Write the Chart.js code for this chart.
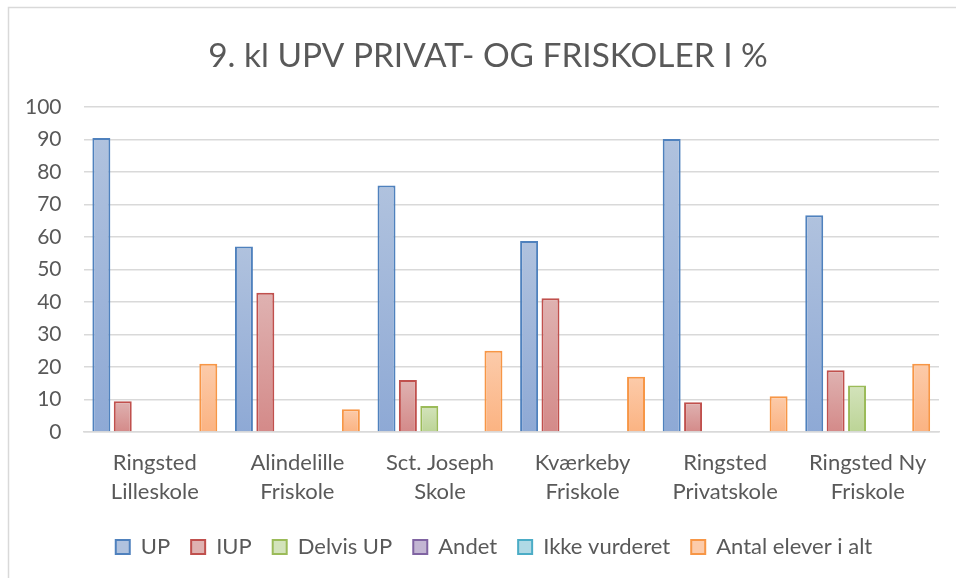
<!DOCTYPE html>
<html>
<head>
<meta charset="utf-8">
<script src="https://cdn.jsdelivr.net/npm/chart.js@4"></script>
<style>
html,body{margin:0;padding:0;background:#fff;}
#wrap{width:956px;height:578px;position:relative;}
</style>
</head>
<body>
<div id="wrap"><canvas id="c" width="956" height="578"></canvas></div>
<script>
const categories = [
  ["Ringsted", "Lilleskole"],
  ["Alindelille", "Friskole"],
  ["Sct. Joseph", "Skole"],
  ["Kværkeby", "Friskole"],
  ["Ringsted", "Privatskole"],
  ["Ringsted Ny", "Friskole"]
];
const seriesNames = ["UP", "IUP", "Delvis UP", "Andet", "Ikke vurderet", "Antal elever i alt"];
const upValues      = [90.5, 57.1, 75.9, 58.8, 90.2, 66.7];
const iupValues     = [9.5, 42.9, 16.0, 41.2, 9.2, 19.0];
const delvisValues  = [null, null, 8.0, null, null, 14.3];
const andetValues   = [null, null, null, null, null, null];
const ikkeValues    = [null, null, null, null, null, null];
const antalValues   = [21, 7, 25, 17, 11, 21];
const yTicks = [0, 10, 20, 30, 40, 50, 60, 70, 80, 90, 100];

const borderCols = ["#4f81bd", "#c0504d", "#9bbb59", "#8064a2", "#4bacc6", "#f79646"];
const topCols    = ["#b0c2de", "#dfb2b1", "#d3e3bb", "#c3b6d3", "#b0d9e5", "#fccbaa"];
const botCols    = ["#8ea9d5", "#d48a89", "#bcd496", "#a795c2", "#8fc8d9", "#fbb382"];

function gradFor(i) {
  return function(ctx) {
    const chart = ctx.chart;
    if (ctx.type !== 'data' || !chart.scales || !chart.scales.y) return topCols[i];
    const v = ctx.raw;
    if (v == null) return topCols[i];
    const y = chart.scales.y;
    const t = y.getPixelForValue(v), b = y.getPixelForValue(0);
    if (!isFinite(t) || !isFinite(b) || t === b) return topCols[i];
    const g = chart.ctx.createLinearGradient(0, t, 0, b);
    g.addColorStop(0, topCols[i]);
    g.addColorStop(1, botCols[i]);
    return g;
  };
}

const allData = [upValues, iupValues, delvisValues, andetValues, ikkeValues, antalValues];
const datasets = seriesNames.map((name, i) => ({
  label: name,
  data: allData[i],
  backgroundColor: gradFor(i),
  borderColor: borderCols[i],
  borderWidth: 2,
  borderSkipped: 'bottom',
  categoryPercentage: 0.9,
  barPercentage: 0.84
}));

const frame = {
  id: 'frame',
  afterLayout(chart) {
    const shift = (box, dx) => { if (box) { box.left += dx; box.right += dx; } };
    shift(chart.titleBlock, 17);
    shift(chart.legend, 23);
  },
  beforeDraw(chart) {
    const c = chart.ctx;
    c.save();
    c.fillStyle = '#ffffff';
    c.fillRect(0, 0, chart.width, chart.height);
    c.strokeStyle = '#d9d9d9';
    c.lineWidth = 1.5;
    c.beginPath();
    c.moveTo(8.5, chart.height);
    c.lineTo(8.5, 7.5);
    c.lineTo(chart.width, 7.5);
    c.stroke();
    c.restore();
  }
};

const FONT = "Lato, 'Open Sans', sans-serif";

new Chart(document.getElementById('c'), {
  type: 'bar',
  data: { labels: categories, datasets: datasets },
  plugins: [frame],
  options: {
    responsive: false,
    animation: false,
    layout: { padding: { top: 36, left: 3, right: 17, bottom: 10 } },
    plugins: {
      title: {
        display: true,
        text: "9. kl UPV PRIVAT- OG FRISKOLER I %",
        color: '#595959',
        font: { family: FONT, size: 33.4, weight: 'normal' },
        padding: { top: 0, bottom: 31 }
      },
      legend: {
        position: 'bottom',
        labels: {
          color: '#595959',
          font: { family: FONT, size: 22 },
          boxWidth: 14,
          boxHeight: 14,
          padding: 21,
          generateLabels(chart) {
            return chart.data.datasets.map((ds, i) => ({
              text: ds.label,
              fillStyle: topCols[i],
              strokeStyle: borderCols[i],
              lineWidth: 2,
              hidden: false,
              datasetIndex: i,
              fontColor: '#595959'
            }));
          }
        }
      },
      tooltip: { enabled: false }
    },
    scales: {
      x: {
        grid: { display: false, drawTicks: false },
        border: { display: true, color: '#d9d9d9', width: 1.5 },
        ticks: {
          color: '#595959',
          font: { family: FONT, size: 22, lineHeight: 1.34 },
          padding: 16,
          maxRotation: 0,
          autoSkip: false
        },
        afterFit(scale) { scale.height -= 8; }
      },
      y: {
        min: 0,
        max: 100,
        afterBuildTicks(scale) { scale.ticks = yTicks.map(v => ({ value: v })); },
        grid: { color: '#d9d9d9', lineWidth: 1.5, drawTicks: false },
        border: { display: false },
        ticks: {
          color: '#595959',
          font: { family: FONT, size: 21 },
          padding: 22
        }
      }
    }
  }
});
</script>
</body>
</html>
